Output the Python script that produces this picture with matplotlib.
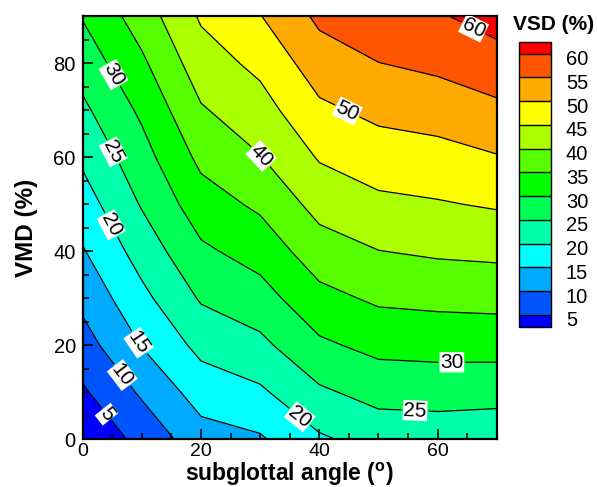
import numpy as np
import matplotlib
matplotlib.use('Agg')
import matplotlib.pyplot as plt
import matplotlib.transforms as mtransforms
from matplotlib.ticker import MultipleLocator

plt.rcParams['font.family'] = ['Liberation Sans', 'DejaVu Sans']
plt.rcParams['mathtext.fontset'] = 'custom'
plt.rcParams['mathtext.rm'] = 'Liberation Sans'
plt.rcParams['mathtext.bf'] = 'Liberation Sans:bold'

# ---- data ----
angle = [0, 10, 20, 30, 40, 50, 60, 70]          # subglottal angle (deg)
vmd = [0, 10, 20, 30, 40, 50, 60, 70, 80, 90]     # VMD (%)
# VSD (%) : one row per VMD value, columns follow `angle`
vsd = [
    [0.7, 6.5, 12.9, 14.4, 19.3, 21.9, 22.1, 21.6],
    [4.3, 10.7, 17.2, 19.2, 24.2, 26.7, 27.0, 26.8],
    [7.9, 15.2, 21.4, 23.8, 29.1, 31.4, 31.7, 31.8],
    [11.3, 18.7, 25.5, 28.0, 33.5, 35.8, 36.3, 36.6],
    [14.6, 22.1, 29.1, 32.0, 37.7, 39.9, 40.7, 41.1],
    [17.7, 25.4, 32.7, 35.9, 41.7, 43.9, 44.6, 45.5],
    [20.9, 28.1, 36.2, 39.8, 45.4, 47.6, 48.3, 49.7],
    [24.0, 30.9, 39.5, 43.0, 49.0, 51.2, 52.1, 53.9],
    [27.1, 34.1, 42.7, 46.2, 52.6, 54.9, 56.1, 58.0],
    [30.3, 37.4, 45.6, 49.8, 56.0, 58.6, 59.5, 61.9],
]
levels = [5, 10, 15, 20, 25, 30, 35, 40, 45, 50, 55, 60]
label_levels = [5, 10, 15, 20, 25, 30, 40, 50, 60]
plain_levels = [35, 45, 55]
label_pos = [(3.9, 5.2), (6.3, 13.3), (9.4, 20.5), (4.9, 45.7), (4.9, 61.0),
             (5.7, 78.0), (30.5, 60.6), (44.6, 69.5), (65.9, 87.1),
             (62.4, 15.8), (56.2, 6.2), (36.7, 4.8)]
colors = ['#0000FF', '#0055FF', '#00AAFF', '#00FFFF', '#00FFAA', '#00FF55',
          '#00FF00', '#55FF00', '#AAFF00', '#FFFF00', '#FFAA00', '#FF5500',
          '#FF0000']

W, H = 597, 487
fig = plt.figure(figsize=(W / 100, H / 100), dpi=100)
ax = fig.add_axes([82.7 / W, 1 - 439.3 / H, (496.8 - 82.7) / W, (439.3 - 16.5) / H])

X, Y = np.meshgrid(angle, vmd)
Z = np.array(vsd)
cf = ax.contourf(X, Y, Z, levels=levels, colors=colors, extend='both')
ax.contour(X, Y, Z, levels=plain_levels, colors='k', linewidths=0.9)
cs = ax.contour(X, Y, Z, levels=label_levels, colors='k', linewidths=0.9)
cl = ax.clabel(cs, manual=label_pos, inline=True,
               fmt='%d', fontsize=15, inline_spacing=2)
for t in cl:
    t.set_bbox(dict(facecolor='white', edgecolor='none', pad=0.5))

ax.set_xlim(0, 70)
ax.set_ylim(0, 90)
ax.set_xticks([0, 20, 40, 60])
ax.set_yticks([0, 20, 40, 60, 80])
ax.xaxis.set_minor_locator(MultipleLocator(5))
ax.yaxis.set_minor_locator(MultipleLocator(5))
ax.tick_params(which='both', direction='in', top=False, right=False,
               labelsize=14.5, pad=5, width=1.2)
ax.tick_params(axis='x', which='both', pad=2.5, labelsize=14)
ax.tick_params(which='major', length=7)
ax.tick_params(which='minor', length=4)
for s in ax.spines.values():
    s.set_linewidth(1.6)
ax.set_xlabel(r'subglottal angle ($\mathregular{^o}$)', fontsize=16.5, fontweight='bold')
ax.set_ylabel('VMD (%)', fontsize=17.5, fontweight='bold')
ax.xaxis.set_label_coords(0.5, -0.052)
ax.yaxis.set_label_coords(-0.108, 0.5)

# colorbar
cax = fig.add_axes([519 / W, 1 - 326.7 / H, 31.7 / W, (326.7 - 41.7) / H])
cb = fig.colorbar(cf, cax=cax, extendrect=True, extendfrac=0.5 / 11,
                  drawedges=True, ticks=levels)
cb.outline.set_linewidth(1.0)
cb.dividers.set_linewidth(1.0)
cax.tick_params(length=0, labelsize=14.5, pad=11)
off = mtransforms.ScaledTranslation(0, -4 / 100, fig.dpi_scale_trans)
for lab in cax.get_yticklabels():
    lab.set_transform(lab.get_transform() + off)
fig.text(554 / W, 1 - 25 / H, 'VSD (%)', ha='center', va='center',
         fontsize=15, fontweight='bold')

fig.savefig('out.png', dpi=100)
